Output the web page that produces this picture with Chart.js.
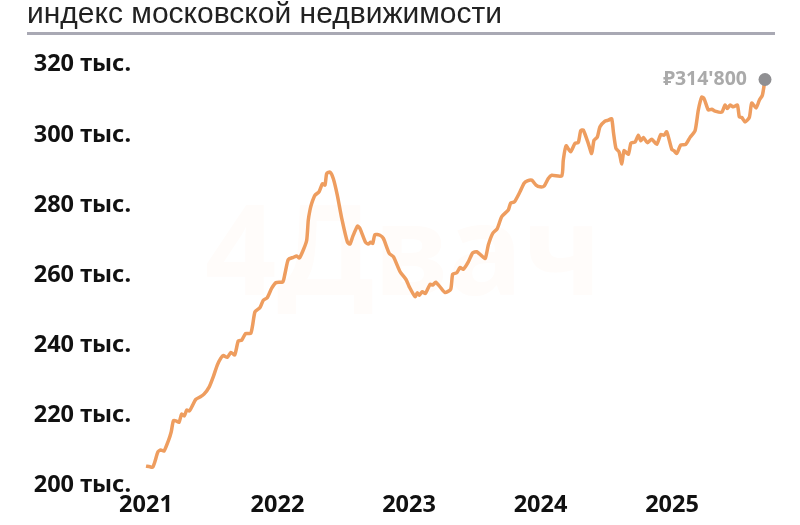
<!DOCTYPE html>
<html>
<head>
<meta charset="utf-8">
<style>
  html, body { margin: 0; padding: 0; background: #fff; }
  canvas { display: block; }
</style>
<script src="https://cdn.jsdelivr.net/npm/chart.js@4"></script>
</head>
<body>
<canvas id="indexChart" width="800" height="525"></canvas>
<script>
const titleText = 'индекс московской недвижимости';
const lastLabel = "₽314'800";
const tickYears = [2021, 2022, 2023, 2024, 2025];
const tickValues = [200, 220, 240, 260, 280, 300, 320];

// dates as fractions of a year
const years = [
  2021.00, 2021.03, 2021.051, 2021.068, 2021.091, 2021.112, 2021.137, 2021.17, 2021.192, 2021.208,
  2021.228, 2021.251, 2021.271, 2021.291, 2021.31, 2021.329, 2021.355, 2021.378, 2021.411, 2021.441,
  2021.481, 2021.512, 2021.542, 2021.568, 2021.588, 2021.618, 2021.646, 2021.675, 2021.702, 2021.728,
  2021.758, 2021.796, 2021.811, 2021.829, 2021.867, 2021.892, 2021.922, 2021.956, 2021.989, 2022.04,
  2022.057, 2022.082, 2022.12, 2022.146, 2022.166, 2022.196, 2022.222, 2022.234, 2022.247, 2022.26,
  2022.285, 2022.316, 2022.342, 2022.361, 2022.374, 2022.399, 2022.424, 2022.455, 2022.488, 2022.532,
  2022.551, 2022.572, 2022.608, 2022.627, 2022.669, 2022.69, 2022.709, 2022.724, 2022.741, 2022.779,
  2022.805, 2022.85, 2022.881, 2022.932, 2022.977, 2023.002, 2023.046, 2023.063, 2023.078, 2023.101,
  2023.124, 2023.16, 2023.18, 2023.203, 2023.236, 2023.274, 2023.317, 2023.332, 2023.363, 2023.388,
  2023.413, 2023.451, 2023.484, 2023.515, 2023.553, 2023.58, 2023.603, 2023.636, 2023.671, 2023.705,
  2023.755, 2023.773, 2023.801, 2023.844, 2023.875, 2023.9, 2023.933, 2023.966, 2023.996, 2024.027,
  2024.059, 2024.085, 2024.161, 2024.173, 2024.194, 2024.229, 2024.262, 2024.287, 2024.306, 2024.325,
  2024.363, 2024.389, 2024.407, 2024.432, 2024.452, 2024.49, 2024.516, 2024.541, 2024.554, 2024.574,
  2024.597, 2024.618, 2024.635, 2024.668, 2024.688, 2024.719, 2024.744, 2024.762, 2024.782, 2024.812,
  2024.846, 2024.884, 2024.914, 2024.939, 2024.96, 2024.998, 2025.015, 2025.036, 2025.066, 2025.104,
  2025.137, 2025.175, 2025.2, 2025.226, 2025.243, 2025.276, 2025.302, 2025.327, 2025.378, 2025.403,
  2025.42, 2025.441, 2025.466, 2025.497, 2025.512, 2025.53, 2025.555, 2025.588, 2025.606, 2025.639,
  2025.664, 2025.687, 2025.707
];

// thousands of rubles
const prices = [
  205.1, 204.9, 204.8, 206.4, 209.2, 209.7, 209.4, 212.3, 214.9, 218.0,
  218.0, 217.6, 219.9, 219.4, 221.1, 220.8, 222.5, 224.1, 224.8, 225.6,
  227.7, 230.6, 233.9, 235.8, 236.6, 236.1, 237.5, 236.8, 240.8, 241.0,
  242.9, 242.9, 245.3, 249.1, 250.3, 252.4, 253.1, 255.8, 257.4, 257.6,
  260.0, 264.0, 264.6, 265.0, 264.4, 266.7, 269.5, 275.2, 278.1, 280.0,
  282.3, 283.3, 285.6, 285.2, 288.5, 288.9, 287.1, 282.3, 275.8, 268.9,
  268.4, 270.5, 273.5, 272.8, 268.9, 268.4, 268.9, 268.6, 271.1, 270.9,
  270.0, 265.7, 264.8, 260.5, 258.3, 256.2, 253.4, 254.5, 253.8, 254.8,
  254.3, 256.9, 256.7, 257.5, 256.2, 254.6, 255.5, 259.8, 260.2, 261.7,
  261.2, 263.3, 265.9, 266.2, 265.0, 264.3, 268.1, 271.4, 272.8, 276.2,
  278.1, 280.1, 280.4, 283.3, 285.7, 286.4, 286.6, 285.2, 284.7, 284.9,
  287.1, 288.0, 287.8, 292.3, 296.4, 294.7, 297.1, 297.3, 300.7, 300.9,
  297.1, 294.2, 298.0, 298.9, 301.8, 303.4, 303.7, 304.1, 300.4, 295.6,
  294.7, 291.2, 295.0, 294.0, 297.2, 297.5, 299.4, 297.8, 298.8, 297.3,
  298.3, 296.8, 299.6, 299.4, 300.4, 295.4, 295.0, 294.2, 296.6, 296.8,
  298.8, 300.7, 306.6, 310.3, 309.9, 306.6, 306.8, 306.3, 306.0, 308.0,
  307.0, 308.0, 307.5, 308.0, 304.6, 304.5, 303.2, 304.5, 308.6, 307.2,
  309.4, 310.8, 315.3
];

const points = years.map((year, i) => ({ x: year, y: prices[i] }));

const tickFont = { family: '"Noto Sans"', size: 23.5, weight: 'bold' };

// rule under the title, faint watermark and the label next to the last point
const decorPlugin = {
    id: 'decor',
    beforeDatasetsDraw(chart) {
        const ctx = chart.ctx;
        ctx.save();
        ctx.fillStyle = '#a9a9b4';
        ctx.fillRect(27, 32, 748, 3);
        ctx.fillStyle = '#fffcfa';
        ctx.font = 'bold 125px "Noto Sans"';
        ctx.textBaseline = 'alphabetic';
        ctx.textAlign = 'left';
        ctx.fillText('4Двач', 205, 295);
        ctx.restore();
    },
    afterDatasetsDraw(chart) {
        const ctx = chart.ctx;
        const last = chart.getDatasetMeta(0).data[prices.length - 1];
        ctx.save();
        ctx.fillStyle = '#aaaaaa';
        ctx.font = 'bold 19.5px "Noto Sans"';
        ctx.textAlign = 'right';
        ctx.textBaseline = 'middle';
        ctx.fillText(lastLabel, 747, last.y);
        ctx.restore();
    }
};

const lineChart = new Chart(document.getElementById('indexChart'), {
    type: 'line',
    data: {
        datasets: [{
            data: points,
            borderColor: '#ee9d5f',
            borderWidth: 3.5,
            tension: 0.2,
            clip: false,
            pointRadius: (c) => c.dataIndex === prices.length - 1 ? 6.5 : 0,
            pointBackgroundColor: '#8f8f92',
            pointBorderWidth: 0
        }]
    },
    options: {
        responsive: false,
        animation: false,
        layout: { padding: { left: 27, right: 35, top: 0, bottom: 0 } },
        plugins: {
            legend: { display: false },
            tooltip: { enabled: false },
            title: {
                display: true,
                text: titleText,
                align: 'start',
                color: '#222222',
                font: { family: '"Liberation Sans"', size: 30, weight: 'normal', lineHeight: 1.2 },
                padding: { top: -3, bottom: 30 }
            }
        },
        scales: {
            x: {
                type: 'linear',
                min: tickYears[0],
                max: years[years.length - 1],
                grid: { display: false, drawTicks: false },
                border: { display: false },
                afterBuildTicks: (axis) => { axis.ticks = tickYears.map((v) => ({ value: v })); },
                afterFit: (axis) => { axis.height = 41; },
                ticks: {
                    color: '#111111',
                    font: tickFont,
                    padding: 7,
                    maxRotation: 0,
                    autoSkip: false,
                    callback: (v) => String(v)
                }
            },
            y: {
                min: tickValues[0],
                max: tickValues[tickValues.length - 1],
                display: false
            },
            // labels only: the printed tick text sits about 2px under its gridline value
            yLabels: {
                position: 'left',
                min: tickValues[0] + 0.5,
                max: tickValues[tickValues.length - 1] + 0.5,
                grid: { display: false, drawTicks: false },
                border: { display: false },
                afterBuildTicks: (axis) => { axis.ticks = tickValues.map((v) => ({ value: v })); },
                afterFit: (axis) => { axis.width = 119; },
                ticks: {
                    color: '#111111',
                    font: tickFont,
                    padding: 15,
                    callback: (v) => v + ' тыс.'
                }
            }
        }
    },
    plugins: [decorPlugin]
});
</script>
</body>
</html>
